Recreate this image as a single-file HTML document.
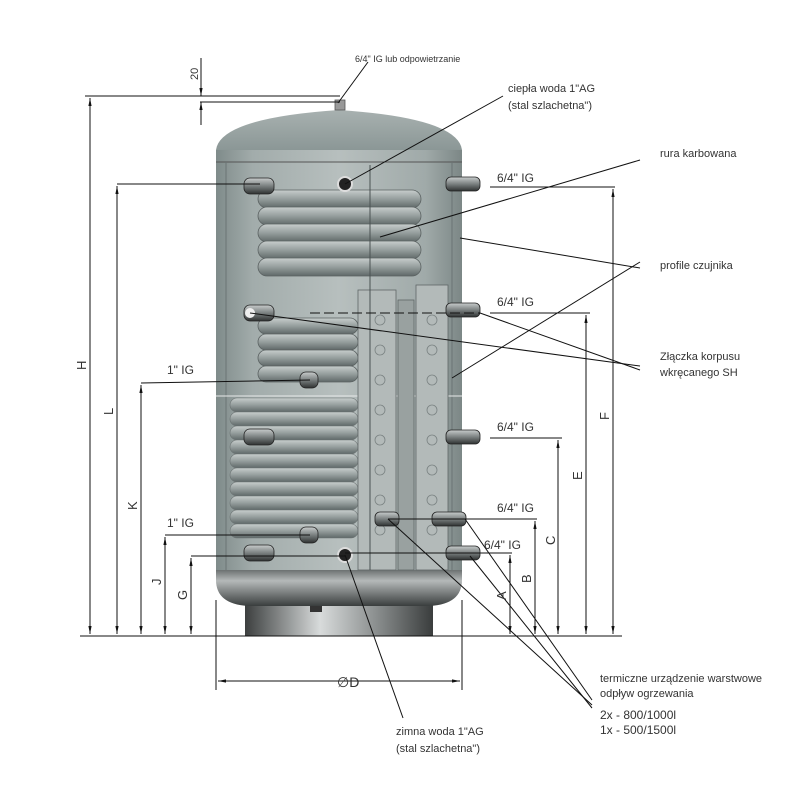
<!DOCTYPE html>
<html><head><meta charset="utf-8"><style>html,body{margin:0;padding:0;background:#fff}svg{display:block}text{font-family:"Liberation Sans",sans-serif;fill:#333}</style></head><body>
<svg width="800" height="800" viewBox="0 0 800 800" xmlns="http://www.w3.org/2000/svg">
<defs>
<linearGradient id="body" x1="0" x2="1" y1="0" y2="0"><stop offset="0" stop-color="#7f8b8a"/><stop offset="0.15" stop-color="#a2acab"/><stop offset="0.5" stop-color="#b7bfbe"/><stop offset="0.85" stop-color="#a0aaa9"/><stop offset="1" stop-color="#7c8786"/></linearGradient>
<linearGradient id="dome" x1="0" x2="0" y1="0" y2="1"><stop offset="0" stop-color="#a8b1b0"/><stop offset="1" stop-color="#8b9796"/></linearGradient>
<linearGradient id="foot" x1="0" x2="1"><stop offset="0" stop-color="#3c3f3f"/><stop offset="0.4" stop-color="#d8dbdb"/><stop offset="0.7" stop-color="#8a8e8e"/><stop offset="1" stop-color="#3a3d3d"/></linearGradient>
<linearGradient id="dish" x1="0" x2="0" y1="0" y2="1"><stop offset="0" stop-color="#6c7171"/><stop offset="0.3" stop-color="#b5b9b9"/><stop offset="1" stop-color="#3a3e3e"/></linearGradient>
<linearGradient id="stub" x1="0" x2="0" y1="0" y2="1"><stop offset="0" stop-color="#c8cccc"/><stop offset="0.5" stop-color="#7a8080"/><stop offset="1" stop-color="#2f3232"/></linearGradient>
<linearGradient id="coil" x1="0" x2="0" y1="0" y2="1"><stop offset="0" stop-color="#c8cecd"/><stop offset="0.5" stop-color="#959e9d"/><stop offset="1" stop-color="#5f6868"/></linearGradient>
<marker id="ar" viewBox="0 0 10 10" refX="10" refY="5" markerWidth="8" markerHeight="8" orient="auto-start-reverse"><path d="M0,3 L10,5 L0,7 z" fill="#111"/></marker>
</defs>

<rect x="245" y="598" width="188" height="38" fill="url(#foot)"/>
<rect x="310" y="598" width="12" height="14" fill="#333"/>
<path d="M216,570 L462,570 L462,580 Q462,604 430,606 L248,606 Q216,604 216,580 Z" fill="url(#dish)"/>
<rect x="216" y="150" width="246" height="420" fill="url(#body)"/>
<path d="M216,150 Q220,118 339,110 Q458,118 462,150 Z" fill="url(#dome)"/>
<line x1="216" y1="162" x2="462" y2="162" stroke="#555" stroke-width="1"/>
<line x1="226" y1="162" x2="226" y2="570" stroke="#6a7474" stroke-width="1"/>
<line x1="452" y1="162" x2="452" y2="570" stroke="#6a7474" stroke-width="1"/>
<rect x="335" y="100" width="10" height="10" fill="#999" stroke="#555" stroke-width="0.8"/>
<line x1="216" y1="396" x2="462" y2="396" stroke="#e8eaea" stroke-width="1"/>
<g fill="url(#coil)" stroke="#5b6262" stroke-width="0.8">
<rect x="258" y="190" width="163" height="18" rx="9"/>
<rect x="258" y="207" width="163" height="18" rx="9"/>
<rect x="258" y="224" width="163" height="18" rx="9"/>
<rect x="258" y="241" width="163" height="18" rx="9"/>
<rect x="258" y="258" width="163" height="18" rx="9"/>
<rect x="258" y="318" width="100" height="16" rx="8"/>
<rect x="258" y="334" width="100" height="16" rx="8"/>
<rect x="258" y="350" width="100" height="16" rx="8"/>
<rect x="258" y="366" width="100" height="16" rx="8"/>
</g>
<g fill="url(#coil)" stroke="#6b7272" stroke-width="0.6">
<rect x="230" y="398" width="128" height="14" rx="7"/>
<rect x="230" y="412" width="128" height="14" rx="7"/>
<rect x="230" y="426" width="128" height="14" rx="7"/>
<rect x="230" y="440" width="128" height="14" rx="7"/>
<rect x="230" y="454" width="128" height="14" rx="7"/>
<rect x="230" y="468" width="128" height="14" rx="7"/>
<rect x="230" y="482" width="128" height="14" rx="7"/>
<rect x="230" y="496" width="128" height="14" rx="7"/>
<rect x="230" y="510" width="128" height="14" rx="7"/>
<rect x="230" y="524" width="128" height="14" rx="7"/>
</g>
<g fill="#b3bab9" stroke="#5f6767" stroke-width="0.8">
<rect x="358" y="290" width="38" height="280"/>
<rect x="416" y="285" width="32" height="285"/>
<rect x="398" y="300" width="16" height="270" fill="#99a1a0"/>
</g>
<g fill="none" stroke="#7a8282" stroke-width="0.8">
<circle cx="380" cy="320" r="5"/><circle cx="380" cy="350" r="5"/><circle cx="380" cy="380" r="5"/><circle cx="380" cy="410" r="5"/><circle cx="380" cy="440" r="5"/><circle cx="380" cy="470" r="5"/><circle cx="380" cy="500" r="5"/><circle cx="380" cy="530" r="5"/>
<circle cx="432" cy="320" r="5"/><circle cx="432" cy="350" r="5"/><circle cx="432" cy="380" r="5"/><circle cx="432" cy="410" r="5"/><circle cx="432" cy="440" r="5"/><circle cx="432" cy="470" r="5"/><circle cx="432" cy="500" r="5"/><circle cx="432" cy="530" r="5"/>
</g>
<line x1="370" y1="165" x2="370" y2="570" stroke="#4a5252" stroke-width="1"/>
<g fill="url(#stub)" stroke="#222" stroke-width="0.8">
<rect x="244" y="178" width="30" height="16" rx="6"/>
<rect x="244" y="305" width="30" height="16" rx="6"/>
<rect x="244" y="429" width="30" height="16" rx="6"/>
<rect x="244" y="545" width="30" height="16" rx="6"/>
<rect x="300" y="372" width="18" height="16" rx="6"/>
<rect x="300" y="527" width="18" height="16" rx="6"/>
<rect x="446" y="177" width="34" height="14" rx="5"/>
<rect x="446" y="303" width="34" height="14" rx="5"/>
<rect x="446" y="430" width="34" height="14" rx="5"/>
<rect x="432" y="512" width="34" height="14" rx="5"/>
<rect x="446" y="546" width="34" height="14" rx="5"/>
<rect x="375" y="512" width="24" height="14" rx="5"/>
</g>
<g fill="#222" stroke="#ddd" stroke-width="2"><circle cx="345" cy="184" r="7"/><circle cx="345" cy="555" r="7"/></g>
<circle cx="250" cy="313" r="5" fill="#eee"/>

<g stroke="#111" stroke-width="1" fill="none">
<line x1="80" y1="636" x2="622" y2="636"/>
<line x1="85" y1="96" x2="340" y2="96"/>
<line x1="200" y1="102" x2="340" y2="102"/>
<line x1="201" y1="58" x2="201" y2="96" marker-end="url(#ar)"/>
<line x1="201" y1="125" x2="201" y2="102" marker-end="url(#ar)"/>
<line x1="90" y1="98" x2="90" y2="634" marker-start="url(#ar)" marker-end="url(#ar)"/>
<line x1="117" y1="184" x2="260" y2="184"/>
<line x1="117" y1="186" x2="117" y2="634" marker-start="url(#ar)" marker-end="url(#ar)"/>
<line x1="141" y1="383" x2="310" y2="380"/>
<line x1="141" y1="385" x2="141" y2="634" marker-start="url(#ar)" marker-end="url(#ar)"/>
<line x1="165" y1="535" x2="310" y2="535"/>
<line x1="165" y1="537" x2="165" y2="634" marker-start="url(#ar)" marker-end="url(#ar)"/>
<line x1="191" y1="556" x2="345" y2="556"/>
<line x1="191" y1="558" x2="191" y2="634" marker-start="url(#ar)" marker-end="url(#ar)"/>
<line x1="490" y1="187" x2="615" y2="187"/>
<line x1="613" y1="189" x2="613" y2="634" marker-start="url(#ar)" marker-end="url(#ar)"/>
<line x1="490" y1="313" x2="590" y2="313"/>
<line x1="586" y1="315" x2="586" y2="634" marker-start="url(#ar)" marker-end="url(#ar)"/>
<line x1="490" y1="438" x2="562" y2="438"/>
<line x1="558" y1="440" x2="558" y2="634" marker-start="url(#ar)" marker-end="url(#ar)"/>
<line x1="388" y1="519" x2="537" y2="519"/>
<line x1="535" y1="521" x2="535" y2="634" marker-start="url(#ar)" marker-end="url(#ar)"/>
<line x1="345" y1="553" x2="512" y2="553"/>
<line x1="510" y1="555" x2="510" y2="634" marker-start="url(#ar)" marker-end="url(#ar)"/>
<line x1="216" y1="600" x2="216" y2="690"/>
<line x1="462" y1="600" x2="462" y2="690"/>
<line x1="218" y1="681" x2="460" y2="681" marker-start="url(#ar)" marker-end="url(#ar)"/>
<line x1="310" y1="313" x2="480" y2="313" stroke-dasharray="10,4"/>
<line x1="338" y1="103" x2="368" y2="62"/>
<line x1="345" y1="184" x2="503" y2="96"/>
<line x1="380" y1="237" x2="640" y2="160"/>
<line x1="460" y1="238" x2="640" y2="268"/>
<line x1="452" y1="378" x2="640" y2="262"/>
<line x1="250" y1="313" x2="640" y2="366"/>
<line x1="480" y1="313" x2="640" y2="370"/>
<line x1="388" y1="519" x2="592" y2="705"/>
<line x1="465" y1="519" x2="592" y2="700"/>
<line x1="470" y1="556" x2="592" y2="708"/>
<line x1="345" y1="555" x2="403" y2="718"/>
</g>

<g font-size="11">
<text x="355" y="62" font-size="9">6/4" IG lub odpowietrzanie</text>
<text x="508" y="92">ciepła woda 1"AG</text>
<text x="508" y="109">(stal szlachetna")</text>
<text x="660" y="157">rura karbowana</text>
<text x="660" y="269">profile czujnika</text>
<text x="660" y="360">Złączka korpusu</text>
<text x="660" y="376">wkręcanego SH</text>
<text x="497" y="182" font-size="12">6/4" IG</text>
<text x="497" y="306" font-size="12">6/4" IG</text>
<text x="497" y="431" font-size="12">6/4" IG</text>
<text x="497" y="512" font-size="12">6/4" IG</text>
<text x="484" y="549" font-size="12">6/4" IG</text>
<text x="167" y="374" font-size="12">1" IG</text>
<text x="167" y="527" font-size="12">1" IG</text>
<text x="396" y="735">zimna woda 1"AG</text>
<text x="396" y="752">(stal szlachetna")</text>
<text x="600" y="682">termiczne urządzenie warstwowe</text>
<text x="600" y="697">odpływ ogrzewania</text>
<text x="600" y="719" font-size="12">2x - 800/1000l</text>
<text x="600" y="734" font-size="12">1x - 500/1500l</text>
<text x="337" y="687" font-size="14">∅D</text>
</g>
<g font-size="13">
<text transform="translate(86,370) rotate(-90)">H</text>
<text transform="translate(113,415) rotate(-90)">L</text>
<text transform="translate(137,510) rotate(-90)">K</text>
<text transform="translate(161,585) rotate(-90)">J</text>
<text transform="translate(187,600) rotate(-90)">G</text>
<text transform="translate(198,80) rotate(-90)" font-size="11">20</text>
<text transform="translate(609,420) rotate(-90)">F</text>
<text transform="translate(582,480) rotate(-90)">E</text>
<text transform="translate(555,545) rotate(-90)">C</text>
<text transform="translate(531,583) rotate(-90)">B</text>
<text transform="translate(506,600) rotate(-90)">A</text>
</g>
</svg>
</body></html>
